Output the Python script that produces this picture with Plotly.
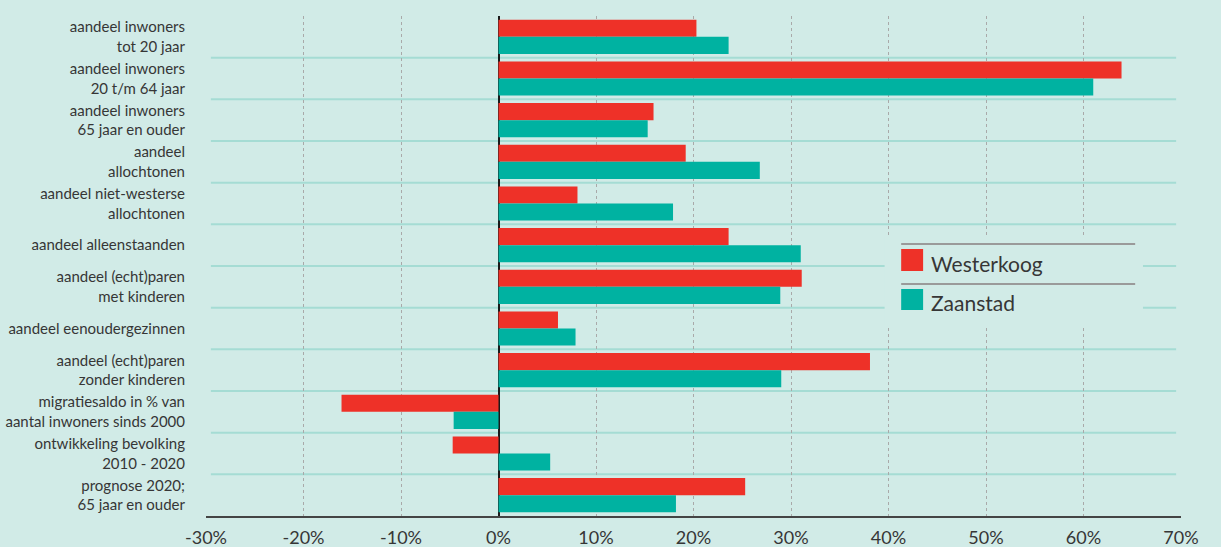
import plotly.graph_objects as go

categories = [
    "aandeel inwoners<br>tot 20 jaar",
    "aandeel inwoners<br>20 t/m 64 jaar",
    "aandeel inwoners<br>65 jaar en ouder",
    "aandeel<br>allochtonen",
    "aandeel niet-westerse<br>allochtonen",
    "aandeel alleenstaanden",
    "aandeel (echt)paren<br>met kinderen",
    "aandeel eenoudergezinnen",
    "aandeel (echt)paren<br>zonder kinderen",
    "migratiesaldo in % van<br>aantal inwoners sinds 2000",
    "ontwikkeling bevolking<br>2010 - 2020",
    "prognose 2020;<br>65 jaar en ouder",
]
westerkoog = [20.3, 63.9, 15.9, 19.2, 8.1, 23.6, 31.1, 6.1, 38.1, -16.1, -4.7, 25.3]
zaanstad = [23.6, 61.0, 15.3, 26.8, 17.9, 31.0, 28.9, 7.9, 29.0, -4.6, 5.3, 18.2]
series_names = ["Westerkoog", "Zaanstad"]
tick_vals = [-30, -20, -10, 0, 10, 20, 30, 40, 50, 60, 70]
tick_text = [f"{v}%" for v in tick_vals]

BG = "#d1ebe7"
RED = "#ee3128"
TEAL = "#00b2a1"
SEP = "#a5dcd4"
TXT = "#363636"
FONT = "Lato"

fig = go.Figure()
fig.add_trace(go.Bar(y=categories, x=westerkoog, name=series_names[0], orientation="h",
                     marker=dict(color=RED, line=dict(width=0))))
fig.add_trace(go.Bar(y=categories, x=zaanstad, name=series_names[1], orientation="h",
                     marker=dict(color=TEAL, line=dict(width=0))))

shapes = []
# separators between categories
for i in range(len(categories) - 1):
    shapes.append(dict(type="line", xref="paper", yref="y", x0=0.005, x1=0.995,
                       y0=i + 0.5, y1=i + 0.5, line=dict(color=SEP, width=2), layer="between"))

# custom legend
lx0, lx1 = 0.696, 0.961
shapes.append(dict(type="rect", xref="paper", yref="paper", x0=lx0, x1=lx1, y0=0.382, y1=0.562,
                   fillcolor=BG, line=dict(width=0), layer="above"))
for yy in [0.544, 0.464]:
    shapes.append(dict(type="line", xref="paper", yref="paper", x0=0.713, x1=0.953, y0=yy, y1=yy,
                       line=dict(color="#9a9a9a", width=2), layer="above"))
colors = [RED, TEAL]
sq = [(0.490, 0.534), (0.412, 0.454)]
text_y = [0.506, 0.428]
annotations = []
for name, c, (y0, y1), ty in zip(series_names, colors, sq, text_y):
    shapes.append(dict(type="rect", xref="paper", yref="paper", x0=0.713, x1=0.7355, y0=y0, y1=y1,
                       fillcolor=c, line=dict(width=0), layer="above"))
    annotations.append(dict(xref="paper", yref="paper", x=0.742, y=ty, text=name, showarrow=False,
                            xanchor="left", yanchor="middle",
                            font=dict(family=FONT, size=21, color=TXT)))

fig.update_layout(
    width=1221, height=547,
    paper_bgcolor=BG, plot_bgcolor=BG,
    margin=dict(l=206, r=40, t=16, b=31),
    barmode="group", bargap=0.18, bargroupgap=0,
    showlegend=False,
    shapes=shapes, annotations=annotations,
    font=dict(family=FONT, color=TXT),
    xaxis=dict(range=[-30, 70], tickvals=tick_vals, ticktext=tick_text, automargin=False,
               showgrid=True, gridcolor="#a9a9a9", griddash="3px,3px", gridwidth=1,
               zeroline=True, zerolinecolor="#1a1a1a", zerolinewidth=2,
               showline=True, linecolor="#444444", linewidth=2,
               ticks="outside", ticklen=4, tickcolor="rgba(0,0,0,0)",
               tickfont=dict(family=FONT, size=18, color=TXT)),
    yaxis=dict(autorange="reversed", showgrid=False, zeroline=False, showline=False, automargin=False,
               ticks="outside", ticklen=17, tickcolor="rgba(0,0,0,0)",
               tickfont=dict(family=FONT, size=15, color=TXT)),
)

fig.write_html("out.html", config={"displayModeBar": False},
               post_script="document.body.style.margin='0';")
